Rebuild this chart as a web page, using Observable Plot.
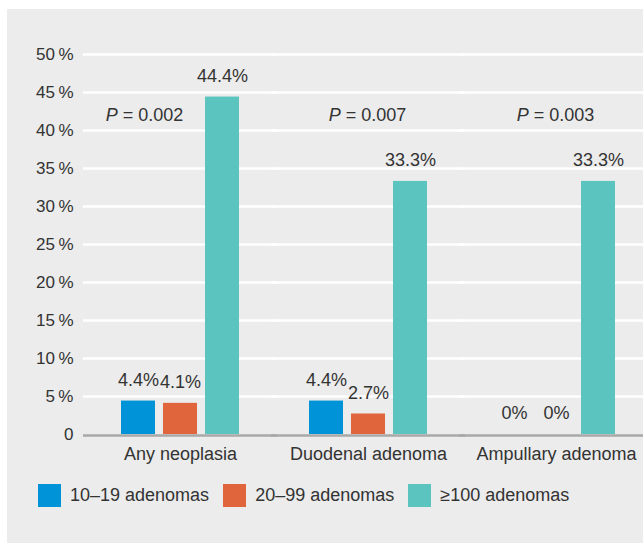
<!DOCTYPE html>
<html>
<head>
<meta charset="utf-8">
<script src="https://cdn.jsdelivr.net/npm/d3@7"></script>
<script src="https://cdn.jsdelivr.net/npm/@observablehq/plot@0.6"></script>
<style>
  html, body { margin: 0; padding: 0; background: #ffffff; overflow: hidden; }
  #panel {
    position: absolute; left: 7px; top: 9px; width: 636px; height: 534px;
    background: #ebeceb; overflow: hidden;
    font-family: "Liberation Sans", Arial, sans-serif; color: #333333;
  }
  #chart { width: 643px; height: 460px; overflow: hidden; }
  #chart svg { display: block; max-width: none !important; width: 643px; height: 460px; }
  #legend {
    display: flex; align-items: center; margin-top: 15px; margin-left: 31px;
    font-size: 18px; height: 23px; color: #333333;
  }
  .item { display: flex; align-items: center; margin-right: 14px; }
  .sw { width: 23px; height: 23px; margin-right: 9px; }
</style>
</head>
<body>
<div id="panel">
  <div id="chart"></div>
  <div id="legend"></div>
</div>
<script>
const categories = ["Any neoplasia", "Duodenal adenoma", "Ampullary adenoma"];
const series = ["10–19 adenomas", "20–99 adenomas", "≥100 adenomas"];
const colors = ["#0093d8", "#e0643c", "#5bc4bf"];
const values1019 = [4.4, 4.4, 0];
const values2099 = [4.1, 2.7, 0];
const values100 = [44.4, 33.3, 33.3];
const pValues = ["0.002", "0.007", "0.003"];
const yTicks = [0, 5, 10, 15, 20, 25, 30, 35, 40, 45, 50];

const seriesValues = [values1019, values2099, values100];
const data = [];
categories.forEach((c, i) => {
  series.forEach((s, j) => data.push({category: c, series: s, value: seriesValues[j][i]}));
});
const pData = categories.map((c, i) => ({category: c, p: pValues[i]}));

const fmtVal = v => (v === 0 ? "0" : v.toFixed(1)) + "%";

const chart = Plot.plot({
  width: 643,
  height: 460,
  marginTop: 45,
  marginBottom: 35,
  marginLeft: 79,
  marginRight: 0,
  style: {background: "transparent", fontFamily: "'Liberation Sans', Arial, sans-serif", fontSize: "18px", color: "#333333"},
  fx: {domain: categories, padding: 0, label: null, axis: "bottom", tickSize: 0, tickPadding: 13},
  x: {domain: series, paddingInner: 0.19, paddingOuter: 0.833, axis: null},
  y: {domain: [0, 50], ticks: 10, tickFormat: d => d === 0 ? "0" : d + "\u2009%", tickSize: 0, tickPadding: 13, label: null},
  color: {domain: series, range: colors},
  marks: [
    Plot.ruleY(yTicks.filter(d => d > 0), {stroke: "#ffffff", strokeWidth: 2.5, insetLeft: -3, insetRight: -3}),
    Plot.barY(data, {fx: "category", x: "series", y: "value", fill: "series"}),
    Plot.ruleY([0], {stroke: "#a9a9a9", strokeWidth: 2.5, insetLeft: -3, insetRight: -3, dy: 1}),
    Plot.text(data, {fx: "category", x: "series", y: "value", text: d => fmtVal(d.value), dy: -21, fill: "#333333", fontSize: 18}),
    Plot.text(pData.filter((d, i) => i === 0), {fx: "category", frameAnchor: "top", text: d => "P = " + d.p, dy: 54, dx: -36, fill: "#333333", fontSize: 18}),
    Plot.text(pData.filter((d, i) => i > 0), {fx: "category", frameAnchor: "top", text: d => "P = " + d.p, dy: 54, dx: -1, fill: "#333333", fontSize: 18})
  ]
});

document.getElementById("chart").appendChild(chart);

// y-axis labels slightly smaller
d3.select(chart).selectAll('g[aria-label^="y-axis"]').attr("font-size", 17).selectAll("text").attr("font-size", 17);

// italic P
d3.select(chart).selectAll("text").each(function() {
  const t = this.textContent;
  if (t.startsWith("P = ") && this.childElementCount === 0) {
    const sel = d3.select(this);
    sel.text("");
    sel.append("tspan").attr("font-style", "italic").text("P");
    sel.append("tspan").text(t.slice(1));
  }
});

const legend = d3.select("#legend");
series.forEach((s, i) => {
  const it = legend.append("div").attr("class", "item");
  it.append("div").attr("class", "sw").style("background", colors[i]);
  it.append("span").text(s);
});
</script>
</body>
</html>
